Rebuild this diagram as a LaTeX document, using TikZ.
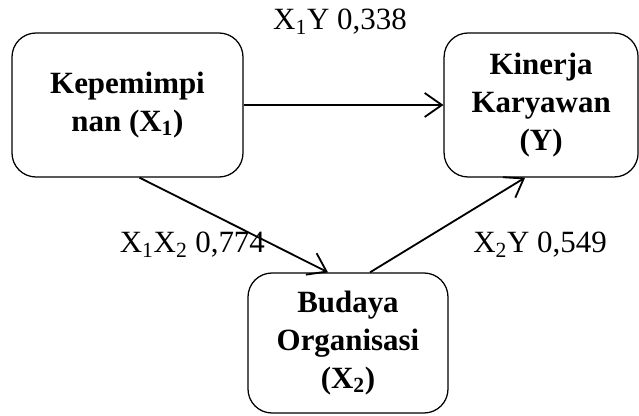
\documentclass[tikz,border=0pt]{standalone}
\usepackage{fontspec}
\setmainfont{Liberation Serif}
\usetikzlibrary{arrows.meta}

\begin{document}
\begin{tikzpicture}[node distance=10.34cm, auto]
% Define styles
\tikzstyle{varbox} = [rectangle, rounded corners=0.6cm, draw=black, line width=0.9pt, align=center, font=\fontsize{22}{27}\selectfont\bfseries]
\tikzstyle{arrow} = [line width=1.3pt, -{Straight Barb[length=0.43cm, width=0.6cm]}]
\tikzstyle{coef} = [font=\fontsize{22}{27}\selectfont]

\useasboundingbox (0,0) rectangle (15.975,10.4);

% Draw nodes
\node [varbox, minimum width=5.775cm, minimum height=3.6cm] at (3.1875,7.775) (kep) {Kepemimpi\\nan (X\textsubscript{1})};
\node [varbox, minimum width=4.85cm, minimum height=3.6cm, right of=kep] (kar) {Kinerja\\Karyawan\\(Y)};
\node [varbox, minimum width=5cm, minimum height=3.5cm] at (8.7,1.825) (bud) {Budaya\\Organisasi\\(X\textsubscript{2})};

% Draw arrows
\draw [arrow] (kep.east) -- (kar.west);
\draw [arrow] ([xshift=0.3cm]kep.south) -- ([xshift=-0.5cm]bud.north);
\draw [arrow] ([xshift=0.55cm]bud.north) -- ([xshift=-0.4cm]kar.south);

% Add coefficient labels
\node [coef] at (8.5,9.85) (c1) {X\textsubscript{1}Y 0,338};
\node [coef] at (4.81,4.275) (c2) {X\textsubscript{1}X\textsubscript{2} 0,774};
\node [coef] at (13.5,4.275) (c3) {X\textsubscript{2}Y 0,549};
\end{tikzpicture}
\end{document}
